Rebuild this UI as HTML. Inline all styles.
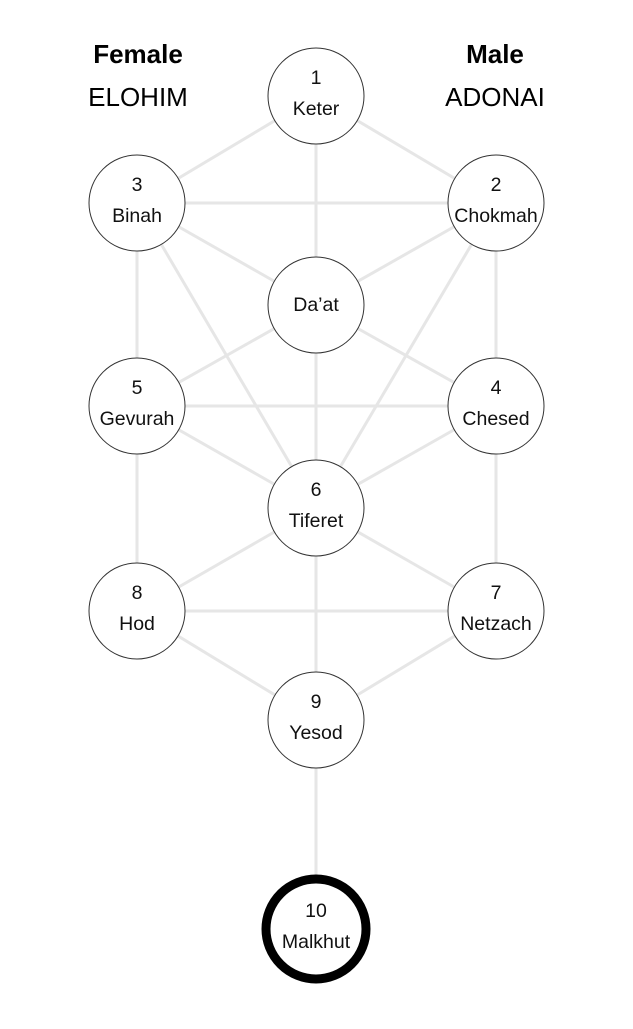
<!DOCTYPE html>
<html><head><style>html,body{margin:0;padding:0;background:#fff}</style></head><body>
<svg width="633" height="1024" viewBox="0 0 633 1024" xmlns="http://www.w3.org/2000/svg" font-family="Liberation Sans, sans-serif">
<g stroke="#e6e6e6" stroke-width="3" fill="none">
<line x1="316" y1="96" x2="137" y2="203"/><line x1="316" y1="96" x2="496" y2="203"/><line x1="316" y1="96" x2="316" y2="305"/>
<line x1="137" y1="203" x2="496" y2="203"/><line x1="137" y1="203" x2="316" y2="305"/><line x1="496" y1="203" x2="316" y2="305"/>
<line x1="137" y1="203" x2="137" y2="406"/><line x1="496" y1="203" x2="496" y2="406"/>
<line x1="137" y1="203" x2="316" y2="508"/><line x1="496" y1="203" x2="316" y2="508"/>
<line x1="316" y1="305" x2="137" y2="406"/><line x1="316" y1="305" x2="496" y2="406"/><line x1="316" y1="305" x2="316" y2="508"/>
<line x1="137" y1="406" x2="496" y2="406"/><line x1="137" y1="406" x2="316" y2="508"/><line x1="496" y1="406" x2="316" y2="508"/>
<line x1="137" y1="406" x2="137" y2="611"/><line x1="496" y1="406" x2="496" y2="611"/>
<line x1="316" y1="508" x2="137" y2="611"/><line x1="316" y1="508" x2="496" y2="611"/><line x1="137" y1="611" x2="496" y2="611"/>
<line x1="316" y1="508" x2="316" y2="720"/><line x1="137" y1="611" x2="316" y2="720"/><line x1="496" y1="611" x2="316" y2="720"/>
<line x1="316" y1="720" x2="316" y2="929"/>
</g>
<g fill="#fff" stroke="#333" stroke-width="1">
<circle cx="316" cy="96" r="48"/><circle cx="137" cy="203" r="48"/><circle cx="496" cy="203" r="48"/>
<circle cx="316" cy="305" r="48"/><circle cx="137" cy="406" r="48"/><circle cx="496" cy="406" r="48"/>
<circle cx="316" cy="508" r="48"/><circle cx="137" cy="611" r="48"/><circle cx="496" cy="611" r="48"/>
<circle cx="316" cy="720" r="48"/>
</g>
<circle cx="316" cy="929" r="50" fill="#fff" stroke="#000" stroke-width="9"/>
<g font-size="19.5" text-anchor="middle" fill="#111">
<text x="316" y="84">1</text><text x="316" y="115">Keter</text>
<text x="137" y="191">3</text><text x="137" y="222">Binah</text>
<text x="496" y="191">2</text><text x="496" y="222">Chokmah</text>
<text x="316" y="311">Da’at</text>
<text x="137" y="394">5</text><text x="137" y="425">Gevurah</text>
<text x="496" y="394">4</text><text x="496" y="425">Chesed</text>
<text x="316" y="496">6</text><text x="316" y="527">Tiferet</text>
<text x="137" y="599">8</text><text x="137" y="630">Hod</text>
<text x="496" y="599">7</text><text x="496" y="630">Netzach</text>
<text x="316" y="708">9</text><text x="316" y="739">Yesod</text>
<text x="316" y="917">10</text><text x="316" y="948">Malkhut</text>
</g>
<g font-size="26" text-anchor="middle" fill="#000">
<text x="138" y="63" font-weight="bold">Female</text><text x="138" y="106">ELOHIM</text>
<text x="495" y="63" font-weight="bold">Male</text><text x="495" y="106">ADONAI</text>
</g>
</svg>
</body></html>
